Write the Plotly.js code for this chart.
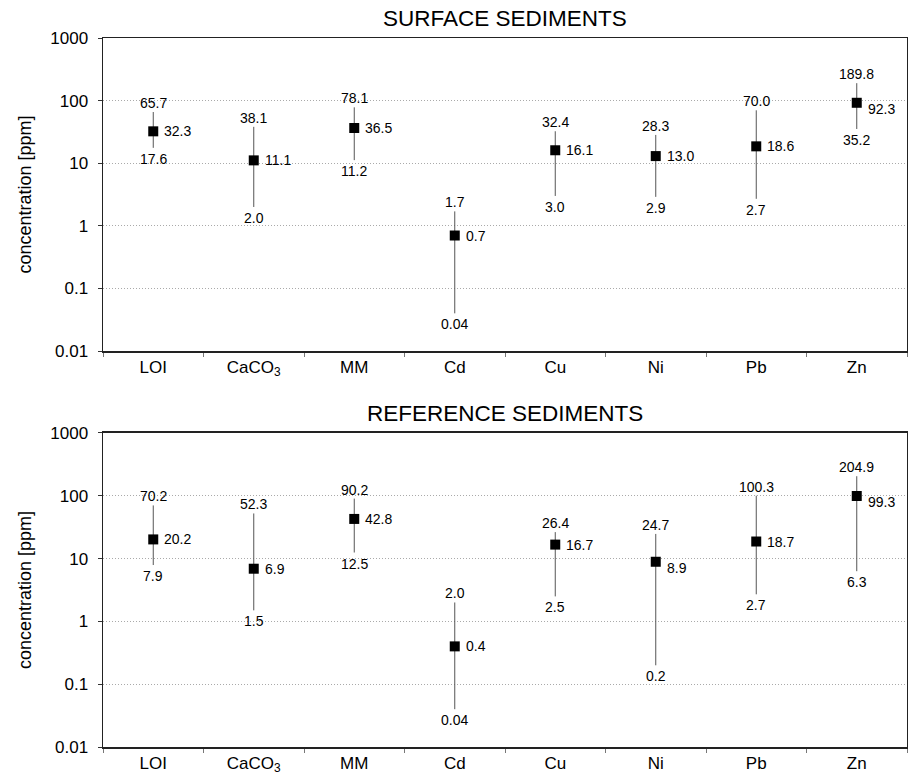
<!DOCTYPE html>
<html>
<head>
<meta charset="utf-8">
<script src="https://cdn.plot.ly/plotly-3.0.1.min.js"></script>
<style>html,body{margin:0;padding:0;background:#fff;}#chart{width:908px;height:775px;}</style>
</head>
<body>
<div id="chart"></div>
<script>
// ---- data ----
const categories = ['LOI', 'CaCO<sub>3</sub>', 'MM', 'Cd', 'Cu', 'Ni', 'Pb', 'Zn'];

const surfaceMax  = [65.7, 38.1, 78.1, 1.7, 32.4, 28.3, 70.0, 189.8];
const surfaceMean = [32.3, 11.1, 36.5, 0.7, 16.1, 13.0, 18.6, 92.3];
const surfaceMin  = [17.6, 2.0, 11.2, 0.04, 3.0, 2.9, 2.7, 35.2];

const referenceMax  = [70.2, 52.3, 90.2, 2.0, 26.4, 24.7, 100.3, 204.9];
const referenceMean = [20.2, 6.9, 42.8, 0.4, 16.7, 8.9, 18.7, 99.3];
const referenceMin  = [7.9, 1.5, 12.5, 0.04, 2.5, 0.2, 2.7, 6.3];

const yTickVals = [0.01, 0.1, 1, 10, 100, 1000];
const yTickText = ['0.01', '0.1', '1', '10', '100', '1000'];

const panelTitles = ['SURFACE SEDIMENTS', 'REFERENCE SEDIMENTS'];
const yTitle = 'concentration [ppm]';

// ---- helpers ----
const FONT = 'Liberation Sans, Arial, Helvetica, sans-serif';
const fmt = v => (v < 0.1 ? v.toFixed(2) : v.toFixed(1));
const LABEL_FONT = {family: FONT, size: 14, color: '#000'};

function panelTraces(maxV, meanV, minV, xa, ya) {
  return [{
    x: categories, y: meanV, xaxis: xa, yaxis: ya,
    type: 'scatter', mode: 'markers',
    marker: {symbol: 'square', size: 10, color: '#000'},
    error_y: {
      type: 'data', symmetric: false,
      array: maxV.map((v, i) => v - meanV[i]),
      arrayminus: minV.map((v, i) => meanV[i] - v),
      width: 0, thickness: 1, color: '#555'
    },
    cliponaxis: false, hoverinfo: 'skip', showlegend: false
  }];
}

function panelLabels(maxV, meanV, minV, xa, ya, lowerRight) {
  const anns = [];
  categories.forEach((c, i) => {
    anns.push({xref: xa, yref: ya, x: c, y: Math.log10(maxV[i]), text: fmt(maxV[i]),
      xanchor: 'center', yanchor: 'bottom', yshift: -1, showarrow: false, font: LABEL_FONT});
    anns.push({xref: xa, yref: ya, x: c, y: Math.log10(minV[i]), text: fmt(minV[i]),
      xanchor: 'center', yanchor: 'top', yshift: -1, showarrow: false, font: LABEL_FONT});
    anns.push({xref: xa, yref: ya, x: c, y: Math.log10(meanV[i]), text: fmt(meanV[i]),
      xanchor: 'left', yanchor: 'middle', xshift: 9, yshift: lowerRight.includes(i) ? -6 : 0,
      showarrow: false, font: LABEL_FONT});
  });
  return anns;
}

const data = [].concat(
  panelTraces(surfaceMax, surfaceMean, surfaceMin, 'x', 'y'),
  panelTraces(referenceMax, referenceMean, referenceMin, 'x2', 'y2')
);

function xAxis(anchor) {
  return {
    anchor: anchor, type: 'category', range: [-0.5, categories.length - 0.5],
    categoryorder: 'array', categoryarray: categories,
    tickson: 'boundaries', ticks: 'outside', ticklen: 4, tickwidth: 1, tickcolor: '#777',
    showline: true, linecolor: '#222', linewidth: 1.5, mirror: true,
    showgrid: false, zeroline: false, fixedrange: true,
    tickfont: {family: FONT, size: 17, color: '#000'}
  };
}
function yAxis(anchor, domain) {
  return {
    anchor: anchor, domain: domain, type: 'log', range: [-2, 3],
    tickmode: 'array', tickvals: yTickVals, ticktext: yTickText,
    ticks: 'outside', ticklen: 4, tickwidth: 1, tickcolor: '#333',
    ticklabelstandoff: 6,
    showline: true, linecolor: '#222', linewidth: 1.5, mirror: true,
    showgrid: true, gridcolor: '#aaa', griddash: '1px,2px', gridwidth: 1,
    zeroline: false, fixedrange: true,
    tickfont: {family: FONT, size: 17, color: '#000'}
  };
}

const topDomain = [0.5585, 1];
const botDomain = [0, 0.4429];

const layout = {
  width: 908, height: 775,
  margin: {l: 103, r: 1, t: 38, b: 28},
  paper_bgcolor: '#fff', plot_bgcolor: '#fff',
  showlegend: false,
  font: {family: FONT, color: '#000'},
  xaxis: xAxis('y'),
  yaxis: yAxis('x', topDomain),
  xaxis2: xAxis('y2'),
  yaxis2: yAxis('x2', botDomain),
  annotations: [
    {text: panelTitles[0], xref: 'paper', yref: 'paper', x: 0.5, y: topDomain[1], yshift: 5,
     xanchor: 'center', yanchor: 'bottom', showarrow: false, font: {family: FONT, size: 22.5, color: '#000'}},
    {text: panelTitles[1], xref: 'paper', yref: 'paper', x: 0.5, y: botDomain[1], yshift: 5,
     xanchor: 'center', yanchor: 'bottom', showarrow: false, font: {family: FONT, size: 22.5, color: '#000'}},
    {text: yTitle, xref: 'paper', yref: 'paper', x: 0, xshift: -78, y: (topDomain[0] + topDomain[1]) / 2,
     xanchor: 'center', yanchor: 'middle', textangle: -90, showarrow: false, font: {family: FONT, size: 18, color: '#000'}},
    {text: yTitle, xref: 'paper', yref: 'paper', x: 0, xshift: -78, y: (botDomain[0] + botDomain[1]) / 2,
     xanchor: 'center', yanchor: 'middle', textangle: -90, showarrow: false, font: {family: FONT, size: 18, color: '#000'}}
  ].concat(
    panelLabels(surfaceMax, surfaceMean, surfaceMin, 'x', 'y', [7]),
    panelLabels(referenceMax, referenceMean, referenceMin, 'x2', 'y2', [5, 7])
  )
};

Plotly.newPlot('chart', data, layout, {staticPlot: true, displayModeBar: false});
</script>
</body>
</html>
